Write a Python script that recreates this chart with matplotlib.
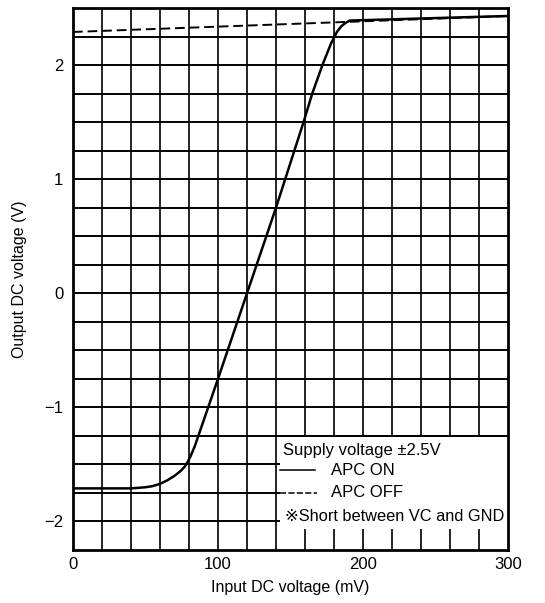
import matplotlib
matplotlib.use("Agg")
import matplotlib.pyplot as plt
import numpy as np
from matplotlib.patches import Rectangle

plt.rcParams['font.family'] = ['Liberation Sans', 'DejaVu Sans']

# APC ON curve (solid)
on_x = [0, 40, 50, 55, 60, 65, 70, 74, 77, 79, 81, 84, 100, 120, 140, 159, 165, 172, 178, 182, 185, 188, 191, 300]
on_y = [-1.71, -1.71, -1.70, -1.69, -1.67, -1.64, -1.60, -1.56, -1.52, -1.48, -1.43, -1.34, -0.75, 0.0, 0.75, 1.5, 1.75, 2.0, 2.19, 2.29, 2.34, 2.37, 2.39, 2.43]
# APC OFF curve (dashed)
off_x = [0, 300]
off_y = [2.29, 2.43]

xticks = [0, 100, 200, 300]
xticklabels = ['0', '100', '200', '300']
yticks = [-2, -1, 0, 1, 2]
yticklabels = ['\u22122', '\u22121', '0', '1', '2']

legend_title = 'Supply voltage \u00b12.5V'
legend_labels = ['APC ON', 'APC OFF']
note = '\u203bShort between VC and GND'

fig = plt.figure(figsize=(5.45, 6.03), dpi=100)
ax = fig.add_axes([73/545, 1-550/603, (508-73)/545, (550-8)/603])
ax.set_xlim(0, 300)
ax.set_ylim(-2.25, 2.5)

for gx in np.arange(20, 300, 20):
    ax.axvline(gx, color='black', lw=1.2, zorder=1)
for gy in np.arange(-2.0, 2.5, 0.25):
    ax.axhline(gy, color='black', lw=1.4, zorder=1)

ax.plot(off_x, off_y, color='black', lw=1.4, ls=(0, (5, 2.5)), zorder=3)
ax.plot(on_x, on_y, color='black', lw=1.8, zorder=3)

# legend box
ax.add_patch(Rectangle((143, -2.07), 157, 0.81, facecolor='white', edgecolor='none', zorder=4))
ax.plot([143, 300], [-1.25, -1.25], color='black', lw=1.4, zorder=5)
ax.text(145, -1.38, legend_title, fontsize=12, va='center', ha='left', zorder=6)
ax.plot([143, 167], [-1.55, -1.55], color='black', lw=1.1, zorder=6)
ax.text(178, -1.55, legend_labels[0], fontsize=12, va='center', ha='left', zorder=6)
ax.plot([143, 168], [-1.75, -1.75], color='black', lw=1.1, ls=(0, (4, 1.5)), zorder=6)
ax.text(178, -1.75, legend_labels[1], fontsize=12, va='center', ha='left', zorder=6)
ax.text(146, -1.96, note, fontsize=11.8, va='center', ha='left', zorder=6)

ax.set_xticks(xticks)
ax.set_xticklabels(xticklabels, fontsize=12)
ax.set_yticks(yticks)
ax.set_yticklabels(yticklabels, fontsize=12)
ax.tick_params(axis='x', length=0, pad=5)
ax.tick_params(axis='y', length=0, pad=7)
for s in ax.spines.values():
    s.set_linewidth(2.0)
    s.set_zorder(7)

ax.set_xlabel('Input DC voltage (mV)', fontsize=11.5, labelpad=6)
ax.set_ylabel('Output DC voltage (V)', fontsize=11.5, labelpad=12)

fig.savefig('out.png', dpi=100, facecolor='white')
